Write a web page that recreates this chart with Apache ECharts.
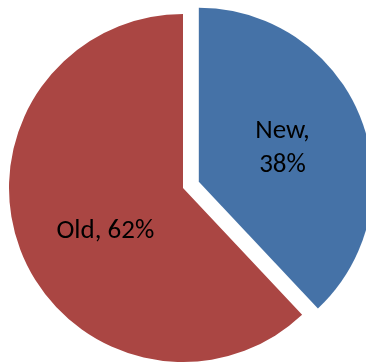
<!DOCTYPE html>
<html>
<head>
<meta charset="utf-8">
<script src="https://cdn.jsdelivr.net/npm/echarts@6/dist/echarts.min.js"></script>
<style>
html,body{margin:0;padding:0;background:#fff;}
#chart{width:366px;height:362px;}
</style>
</head>
<body>
<div id="chart"></div>
<script>
var categories = ['New', 'Old'];
var values = [38, 62];
var colors = ['#4572A7', '#AA4643'];
var explodedCategory = 'New';

var chart = echarts.init(document.getElementById('chart'), null, {renderer: 'canvas'});
var data = categories.map(function (c, i) {
  var item = {
    name: c,
    value: values[i],
    itemStyle: {color: colors[i]},
    selected: c === explodedCategory
  };
  if (c === 'New') {
    item.label = {formatter: '{b},\n{c}%'};
  } else {
    item.label = {formatter: '{b}, {c}%', offset: [6, 10]};
  }
  return item;
});
chart.setOption({
  animation: false,
  series: [{
    type: 'pie',
    center: [183, 188],
    radius: 174,
    startAngle: 90,
    clockwise: true,
    selectedMode: 'single',
    selectedOffset: 17,
    select: {itemStyle: {borderWidth: 0}},
    emphasis: {disabled: true},
    label: {
      show: true,
      position: 'inside',
      color: '#000',
      fontFamily: 'Carlito, "Liberation Sans", sans-serif',
      fontSize: 27,
      lineHeight: 34
    },
    labelLine: {show: false},
    itemStyle: {borderWidth: 0},
    data: data
  }]
});
</script>
</body>
</html>
